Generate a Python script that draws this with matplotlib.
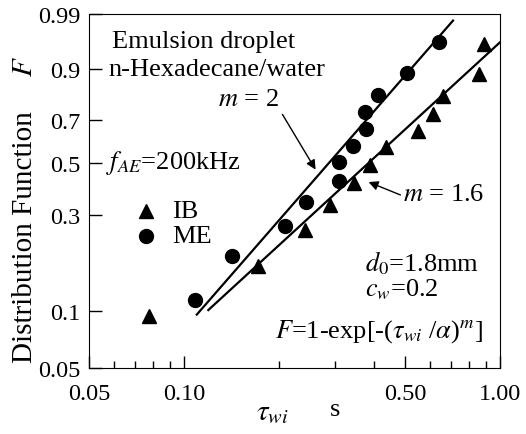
import numpy as np
import matplotlib
matplotlib.use("Agg")
import matplotlib.pyplot as plt

plt.rcParams['font.family'] = ['Liberation Serif', 'DejaVu Serif']
plt.rcParams['mathtext.fontset'] = 'stix'

# Data (tau_wi in s, F)
me_tau = [0.108, 0.142, 0.209, 0.243, 0.309, 0.309, 0.343, 0.377, 0.374, 0.411, 0.508, 0.641]
me_F = [0.115, 0.192, 0.268, 0.345, 0.424, 0.505, 0.577, 0.657, 0.735, 0.807, 0.885, 0.961]
ib_tau = [0.0774, 0.171, 0.241, 0.289, 0.345, 0.388, 0.437, 0.552, 0.614, 0.660, 0.858, 0.893]
ib_F = [0.0945, 0.171, 0.255, 0.334, 0.416, 0.492, 0.571, 0.649, 0.726, 0.803, 0.882, 0.957]

# Weibull fits: F = 1 - exp[-(tau/alpha)^m]
fit_m = [2.0, 1.6]
fit_alpha = [0.345, 0.482]
fit_range = [(0.1097, 0.71), (0.1193, 1.0)]

y_ticks = [0.05, 0.1, 0.3, 0.5, 0.7, 0.9, 0.99]
y_labels = ['0.05', '0.1', '0.3', '0.5', '0.7', '0.9', '0.99']
x_ticks = [0.05, 0.10, 0.50, 1.00]
x_labels = ['0.05', '0.10', '0.50', '1.00']
x_minor = [0.06, 0.07, 0.08, 0.09, 0.2, 0.3, 0.4, 0.6, 0.7, 0.8, 0.9]


def weibull_fwd(F):
    F = np.clip(np.asarray(F, dtype=float), 1e-9, 1 - 1e-9)
    return np.log(-np.log(1 - F))


def weibull_inv(t):
    return 1 - np.exp(-np.exp(np.asarray(t, dtype=float)))


W, H = 526, 435
fig = plt.figure(figsize=(W / 100, H / 100), dpi=100)
L, R, T, B = 89, 500, 15, 369
ax = fig.add_axes([L / W, 1 - B / H, (R - L) / W, (B - T) / H])
ax.set_xscale('log')
ax.set_yscale('function', functions=(weibull_fwd, weibull_inv))
ax.set_xlim(0.05, 1.0)
ax.set_ylim(0.05, 0.99)


def axpos(px, py):
    return (px - L) / (R - L), (B - py) / (B - T)


# fitted lines
for m, a, (x0, x1) in zip(fit_m, fit_alpha, fit_range):
    xs = np.geomspace(x0, x1, 100)
    ax.plot(xs, 1 - np.exp(-(xs / a) ** m), color='black', lw=1.6)

ax.plot(ib_tau, ib_F, linestyle='none', marker='^', color='black', ms=10.5)
ax.plot(me_tau, me_F, linestyle='none', marker='o', color='black', ms=10)

# ticks
ax.set_yticks(y_ticks)
ax.set_yticklabels(y_labels)
ax.yaxis.set_minor_locator(matplotlib.ticker.NullLocator())
ax.set_xticks(x_ticks)
ax.set_xticklabels(x_labels)
ax.set_xticks(x_minor, minor=True)
ax.xaxis.set_minor_formatter(matplotlib.ticker.NullFormatter())
ax.tick_params(which='both', direction='in', top=False, right=False, labelsize=17.5)
ax.tick_params(which='major', length=9, width=1)
ax.tick_params(which='minor', length=5, width=1)
ax.tick_params(axis='x', pad=11)
ax.tick_params(axis='y', pad=6)

fs = 19
tx = dict(transform=ax.transAxes, fontsize=fs, va='center')
ax.text(*axpos(112, 42), 'Emulsion droplet', ha='left', **tx)
ax.text(*axpos(108, 70), 'n-Hexadecane/water', ha='left', **tx)
ax.text(*axpos(106, 163), '$f_{AE}$=200kHz', ha='left', **tx)
ax.text(*axpos(248, 100), '$m$ = 2', ha='center', **tx)
ax.text(*axpos(403, 195), '$m$ = 1.6', ha='left', **tx)
ax.text(*axpos(365, 263), '$d_{\\mathit{0}}$=1.8mm', ha='left', **tx)
ax.text(*axpos(365, 290), '$c_w$=0.2', ha='left', **tx)
ax.text(*axpos(483, 332), '$F$=1-exp[-($\\tau_{wi}$ /$\\alpha$)$^m$]', ha='right', **tx)

# legend drawn by hand
ax.plot(*axpos(146, 212), marker='^', color='black', ms=10.5, transform=ax.transAxes)
ax.plot(*axpos(146, 237), marker='o', color='black', ms=10, transform=ax.transAxes)
ax.text(*axpos(172, 212), 'IB', ha='left', **tx)
ax.text(*axpos(172, 237), 'ME', ha='left', **tx)

# arrows
arr = dict(arrowstyle='-|>', color='black', lw=1, mutation_scale=14)
ax.annotate('', xy=axpos(317, 173), xytext=axpos(281, 113),
            xycoords='axes fraction', textcoords='axes fraction', arrowprops=arr)
ax.annotate('', xy=axpos(366, 182), xytext=axpos(403, 197),
            xycoords='axes fraction', textcoords='axes fraction', arrowprops=arr)

# axis labels
fig.text(25 / W, 1 - 237 / H, 'Distribution Function', rotation=90,
         ha='center', va='center', fontsize=21)
fig.text(25 / W, 1 - 67 / H, '$F$', rotation=90, ha='center', va='center', fontsize=21)
fig.text(272 / W, 1 - 413 / H, '$\\tau_{wi}$', ha='center', va='center', fontsize=21)
fig.text(335 / W, 1 - 410 / H, 's', ha='center', va='center', fontsize=19)

fig.savefig('out.png', dpi=100)
